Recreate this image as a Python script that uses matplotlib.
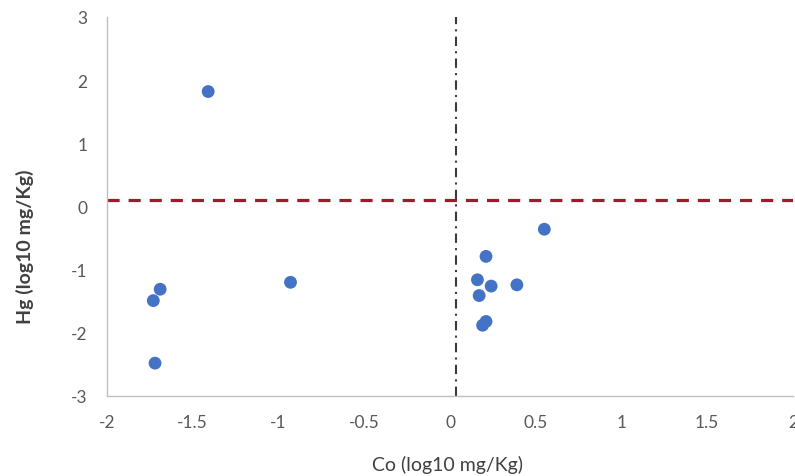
import matplotlib
matplotlib.use("Agg")
import matplotlib.pyplot as plt

# Co vs Hg, log10 mg/Kg
co = [-1.41, -0.93, -1.69, -1.73, -1.72,
      0.55, 0.21, 0.16, 0.24, 0.39, 0.17, 0.21, 0.19]
hg = [1.82, -1.20, -1.31, -1.49, -2.48,
      -0.36, -0.79, -1.16, -1.26, -1.24, -1.41, -1.82, -1.88]

hg_ref = 0.1     # horizontal threshold
co_ref = 0.035   # vertical threshold

xticks = [-2, -1.5, -1, -0.5, 0, 0.5, 1, 1.5, 2]
yticks = [-3, -2, -1, 0, 1, 2, 3]

plt.rcParams['font.family'] = ['Lato', 'DejaVu Sans']

fig = plt.figure(figsize=(7.95, 4.77), dpi=100)
ax = fig.add_axes([107/795, 1 - 397/477, 686/795, 379/477])

ax.scatter(co, hg, s=85, color="#4472C4", edgecolors="none", zorder=3)
ax.axhline(hg_ref, color="#9E1B2A", lw=2.3, ls=(0, (3.8, 2.8)), zorder=2)
ax.axvline(co_ref, color="#3a3a3a", lw=1.5, ls=(0, (4.5, 2.5, 1, 2.5)), zorder=2)

ax.set_xlim(-2, 2)
ax.set_ylim(-3, 3)
ax.set_xticks(xticks)
ax.set_xticklabels([f"{t:g}" for t in xticks])
ax.set_yticks(yticks)
ax.set_yticklabels([f"{t:g}" for t in yticks])
ax.tick_params(length=0, colors="#595959", labelsize=12.5)
ax.tick_params(axis='x', pad=13)
ax.tick_params(axis='y', pad=14)

for s in ["top", "right"]:
    ax.spines[s].set_visible(False)
for s in ["left", "bottom"]:
    ax.spines[s].set_color("#BFBFBF")
    ax.spines[s].set_linewidth(1)

fig.text(448/795, 1 - 465/477, "Co (log10 mg/Kg)", ha="center", va="center",
         fontsize=14, color="#404040")
fig.text(25/795, 1 - 247/477, "Hg (log10 mg/Kg)", ha="center", va="center",
         rotation=90, fontsize=14, fontweight="bold", color="#404040")

fig.savefig("out.png", dpi=100)
